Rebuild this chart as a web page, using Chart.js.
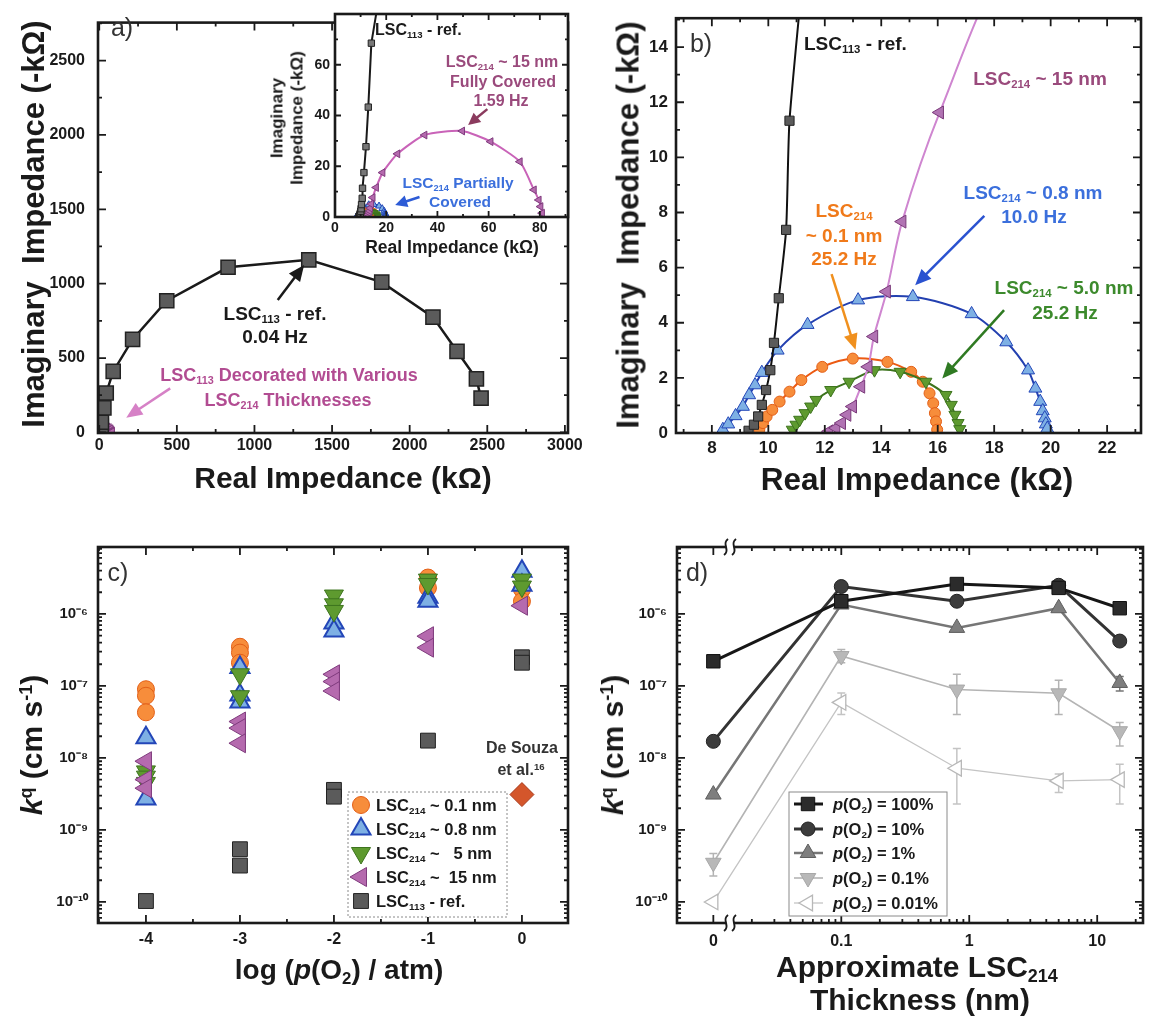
<!DOCTYPE html>
<html>
<head>
<meta charset="utf-8">
<script src="https://cdn.jsdelivr.net/npm/chart.js@4.4.1/dist/chart.umd.min.js"></script>
<style>
  body { margin: 0; background: #fff; }
  #page { position: relative; width: 1155px; height: 1024px; overflow: hidden;
          font-family: "Liberation Sans", Arial, Helvetica, sans-serif; }
  canvas { position: absolute; left: 0; top: 0; }
  .t { position: absolute; white-space: pre; font-weight: bold; line-height: 1;
       text-align: center; transform: translate(-50%, -50%); }
  .t.l { text-align: left; transform: translate(0, -50%); }
  .t.rot { transform: translate(-50%, -50%) rotate(-90deg); }
  .t sub, .t sup { font-size: 0.6em; line-height: 0; position: relative; vertical-align: baseline; }
  .t sub { top: 0.3em; }
  .t sup { top: -0.55em; }
</style>
</head>
<body>
<div id="page">
  <canvas id="cA" width="1155" height="1024"></canvas>
  <canvas id="cIn" width="1155" height="1024"></canvas>
  <canvas id="cB" width="1155" height="1024"></canvas>
  <canvas id="cC" width="1155" height="1024"></canvas>
  <canvas id="cD" width="1155" height="1024"></canvas>
</div>
<script>
// ---------- impedance spectra, panels a / b (real, -imag in kOhm) ----------
const refRe  = [9.3, 9.49, 9.64, 9.77, 9.92, 10.07, 10.2, 10.37, 10.63, 10.75, 11.3, 12.1, 13.0, 14.2, 30, 45, 90, 215, 435, 830, 1350, 1820, 2150, 2305, 2430, 2460];
const refIm  = [0.08, 0.3, 0.6, 1.02, 1.56, 2.28, 3.27, 4.89, 7.37, 11.33, 17.5, 27.7, 43.3, 68.5, 165, 265, 410, 625, 885, 1110, 1160, 1010, 775, 545, 360, 230];
const nm15Re = [12.15, 12.4, 12.6, 12.79, 12.99, 13.28, 13.54, 13.74, 14.19, 14.74, 16.07, 18.6, 24.4, 35.0, 49.7, 60.8, 72.2, 77.7, 79.6, 80.3, 80.9];
const nm15Im = [0.06, 0.18, 0.36, 0.66, 0.96, 1.68, 2.4, 3.5, 5.13, 7.67, 11.63, 17.5, 24.9, 32.3, 33.9, 29.7, 21.8, 10.7, 6.7, 4.1, 1.5];
const nm08Re = [8.39, 8.58, 8.84, 9.1, 9.32, 9.53, 9.77, 10.33, 11.39, 13.18, 15.12, 17.2, 18.43, 19.2, 19.46, 19.63, 19.72, 19.79, 19.83, 19.88];
const nm08Im = [0.12, 0.32, 0.62, 0.96, 1.38, 1.74, 2.19, 3.0, 3.93, 4.82, 4.94, 4.32, 3.3, 2.28, 1.62, 1.14, 0.8, 0.54, 0.32, 0.16];
const nm01Re = [9.68, 9.81, 9.94, 10.14, 10.4, 10.75, 11.17, 11.91, 12.99, 14.22, 15.06, 15.47, 15.71, 15.84, 15.9, 15.94, 15.98];
const nm01Im = [0.12, 0.36, 0.6, 0.84, 1.14, 1.5, 1.92, 2.4, 2.7, 2.58, 2.22, 1.86, 1.44, 1.08, 0.72, 0.42, 0.12];
const nm5Re  = [10.85, 10.98, 11.11, 11.3, 11.5, 11.69, 12.21, 12.86, 13.76, 14.67, 15.58, 16.29, 16.48, 16.61, 16.72, 16.78];
const nm5Im  = [0.12, 0.3, 0.48, 0.72, 0.96, 1.2, 1.56, 1.86, 2.28, 2.22, 1.86, 1.38, 1.02, 0.66, 0.36, 0.14];

// ---------- panel c: k vs log p(O2) ----------
const c01X  = [-4, -4, -4, -3, -3, -3, -1, -1, 0, 0];
const c01K  = [9e-8, 7.3e-8, 4.3e-8, 3.5e-7, 2.9e-7, 2.1e-7, 3.2e-6, 2.3e-6, 2.2e-6, 1.5e-6];
const c08X  = [-4, -4, -3, -3, -3, -2, -2, -1, -1, 0, 0];
const c08K  = [1.9e-8, 2.7e-9, 1.8e-7, 7.5e-8, 6e-8, 7.5e-7, 5.8e-7, 1.7e-6, 1.5e-6, 3.9e-6, 2.5e-6];
const c5X   = [-4, -4, -4, -3, -3, -2, -2, -2, -1, -1, 0, 0];
const c5K   = [6.5e-9, 5.5e-9, 4.5e-9, 1.45e-7, 7.2e-8, 1.8e-6, 1.36e-6, 1.1e-6, 3e-6, 2.6e-6, 3e-6, 2.4e-6];
const c15X  = [-4, -4, -4, -3, -3, -3, -2, -2, -2, -1, -1, 0];
const c15K  = [9e-9, 5e-9, 3.8e-9, 3.2e-8, 2.6e-8, 1.6e-8, 1.45e-7, 1.15e-7, 8.5e-8, 4.9e-7, 3.4e-7, 1.3e-6];
const cRefX = [-4, -3, -3, -2, -2, -1, 0, 0];
const cRefK = [1.03e-10, 5.4e-10, 3.2e-10, 3.6e-9, 2.9e-9, 1.74e-8, 2.5e-7, 2.1e-7];
const souzaX = [0];
const souzaK = [3.1e-9];

// ---------- panel d: k vs thickness (0 nm drawn at 0.01 behind the axis break) ----------
const thick = [0.01, 0.1, 0.8, 5, 15];
const k100 = [2.2e-7, 1.5e-6, 2.6e-6, 2.3e-6, 1.2e-6];
const k10  = [1.7e-8, 2.4e-6, 1.5e-6, 2.5e-6, 4.2e-7];
const k1   = [3.1e-9, 1.35e-6, 6.4e-7, 1.2e-6, 1.1e-7];
const k01  = [3.5e-10, 2.6e-7, 8.9e-8, 7.9e-8, 2.35e-8];
const k001 = [1.0e-10, 5.9e-8, 7.2e-9, 4.8e-9, 5.0e-9];
const k1Lo   = [null, null, null, null, 8.5e-8];
const k1Hi   = [null, null, null, null, 1.35e-7];
const k01Lo  = [2.3e-10, 2.1e-7, 4e-8, 4e-8, 1.46e-8];
const k01Hi  = [4.7e-10, 3.2e-7, 1.45e-7, 1.2e-7, 3.1e-8];
const k001Lo = [null, 4e-8, 2.3e-9, 3.3e-9, 2.3e-9];
const k001Hi = [null, 8e-8, 1.35e-8, 6e-9, 8.2e-9];

// ---------- tick values ----------
const aXTicks = [0, 500, 1000, 1500, 2000, 2500, 3000];
const aYTicks = [0, 500, 1000, 1500, 2000, 2500];
const inXTicks = [0, 20, 40, 60, 80];
const inYTicks = [0, 20, 40, 60];
const bXTicks = [8, 10, 12, 14, 16, 18, 20, 22];
const bYTicks = [0, 2, 4, 6, 8, 10, 12, 14];
const cXTicks = [-4, -3, -2, -1, 0];
const kTicks = [1e-10, 1e-9, 1e-8, 1e-7, 1e-6];
const dXTicks = [0.01, 0.1, 1, 10];
const dXLabels = ["0", "0.1", "1", "10"];

const W = 1155, H = 1024;
Chart.defaults.font.family = '"Liberation Sans", Arial, Helvetica, sans-serif';
Chart.defaults.color = "#1a1a1a";

const steps = (a, b, s) => { const out = []; for (let v = a; v <= b + 1e-9; v += s) out.push(+v.toFixed(6)); return out; };
const logMinor = (e0, e1) => { const out = []; for (let e = e0; e <= e1; e++) for (let m = 2; m <= 9; m++) out.push(m * Math.pow(10, e)); return out; };
const SUP = {"-": "\u207B", "0": "\u2070", "1": "\u00B9", "2": "\u00B2", "3": "\u00B3", "4": "\u2074", "5": "\u2075", "6": "\u2076", "7": "\u2077", "8": "\u2078", "9": "\u2079"};
const powLabel = v => "10" + String(Math.round(Math.log10(v))).split("").map(c => SUP[c]).join("");

function drawMarker(ctx, style, rot, r, x, y) {
  ctx.beginPath();
  if (style === "circle") {
    ctx.arc(x, y, r, 0, Math.PI * 2);
  } else if (style === "rect") {
    const s = r * Math.SQRT1_2;
    ctx.rect(x - s, y - s, 2 * s, 2 * s);
  } else if (style === "rectRot") {
    ctx.moveTo(x, y - r); ctx.lineTo(x + r, y); ctx.lineTo(x, y + r); ctx.lineTo(x - r, y);
  } else {
    let a = (rot || 0) * Math.PI / 180;
    ctx.moveTo(x + Math.sin(a) * r, y - Math.cos(a) * r);
    a += 2 * Math.PI / 3; ctx.lineTo(x + Math.sin(a) * r, y - Math.cos(a) * r);
    a += 2 * Math.PI / 3; ctx.lineTo(x + Math.sin(a) * r, y - Math.cos(a) * r);
  }
  ctx.closePath();
  ctx.fill();
  ctx.stroke();
}

// frame box with inward ticks on all four sides (+ optional axis break)
const framePlugin = {
  id: "frame",
  beforeDatasetsDraw(chart, args, o) {
    if (!o.fill) return;
    const a = chart.chartArea, ctx = chart.ctx;
    ctx.save();
    ctx.fillStyle = o.fill;
    ctx.fillRect(a.left, a.top, a.right - a.left, a.bottom - a.top);
    ctx.restore();
  },
  afterDraw(chart, args, o) {
    const {ctx, chartArea: a} = chart;
    const x = chart.scales.x, y = chart.scales.y;
    const major = o.major || 8, minor = o.minor || 4;
    const inX = v => v >= x.min && v <= x.max, inY = v => v >= y.min && v <= y.max;
    ctx.save();
    ctx.strokeStyle = "#1a1a1a";
    ctx.lineWidth = 1.8;
    ctx.beginPath();
    const xt = (v, len) => {
      const p = x.getPixelForValue(v);
      ctx.moveTo(p, a.bottom); ctx.lineTo(p, a.bottom - len);
      ctx.moveTo(p, a.top); ctx.lineTo(p, a.top + len);
    };
    const yt = (v, len) => {
      const p = y.getPixelForValue(v);
      ctx.moveTo(a.left, p); ctx.lineTo(a.left + len, p);
      ctx.moveTo(a.right, p); ctx.lineTo(a.right - len, p);
    };
    x.ticks.forEach(t => inX(t.value) && xt(t.value, major));
    (o.xMinor || []).forEach(v => inX(v) && xt(v, minor));
    y.ticks.forEach(t => inY(t.value) && yt(t.value, major));
    (o.yMinor || []).forEach(v => inY(v) && yt(v, minor));
    ctx.stroke();
    ctx.lineWidth = 2.6;
    ctx.strokeRect(a.left, a.top, a.right - a.left, a.bottom - a.top);
    if (o.breakAt) {
      const bx = x.getPixelForValue(o.breakAt);
      [a.top, a.bottom].forEach(yy => {
        ctx.fillStyle = "#fff";
        ctx.fillRect(bx - 4, yy - 3, 8, 6);
        ctx.lineWidth = 2;
        [-4, 4].forEach(dx => {
          ctx.beginPath();
          ctx.moveTo(bx + dx - 2, yy + 8);
          ctx.bezierCurveTo(bx + dx + 5, yy + 3, bx + dx - 5, yy - 3, bx + dx + 2, yy - 8);
          ctx.stroke();
        });
      });
    }
    ctx.restore();
  }
};

// annotation arrows, given in data coordinates
const arrowPlugin = {
  id: "arrows",
  afterDatasetsDraw(chart, args, o) {
    const {ctx} = chart, x = chart.scales.x, y = chart.scales.y;
    (o.list || []).forEach(ar => {
      const x0 = x.getPixelForValue(ar.from[0]), y0 = y.getPixelForValue(ar.from[1]);
      const x1 = x.getPixelForValue(ar.to[0]), y1 = y.getPixelForValue(ar.to[1]);
      const ang = Math.atan2(y1 - y0, x1 - x0), c = Math.cos(ang), s = Math.sin(ang);
      const hl = ar.head || 14, hw = ar.hw || 6;
      ctx.save();
      ctx.strokeStyle = ar.color; ctx.fillStyle = ar.color; ctx.lineWidth = ar.w || 2.5;
      ctx.beginPath();
      ctx.moveTo(x0, y0);
      ctx.lineTo(x1 - c * hl * 0.8, y1 - s * hl * 0.8);
      ctx.stroke();
      ctx.beginPath();
      ctx.moveTo(x1, y1);
      ctx.lineTo(x1 - c * hl - s * hw, y1 - s * hl + c * hw);
      ctx.lineTo(x1 - c * hl + s * hw, y1 - s * hl - c * hw);
      ctx.closePath();
      ctx.fill();
      ctx.restore();
    });
  }
};

// vertical error bars from dataset.errLo / dataset.errHi
const errPlugin = {
  id: "errbars",
  beforeDatasetsDraw(chart) {
    const {ctx} = chart, x = chart.scales.x, y = chart.scales.y;
    chart.data.datasets.forEach(ds => {
      if (!ds.errLo) return;
      ctx.save();
      ctx.strokeStyle = ds.borderColor; ctx.lineWidth = 1.5;
      ds.data.forEach((p, i) => {
        if (ds.errLo[i] == null) return;
        const px = x.getPixelForValue(p.x), lo = y.getPixelForValue(ds.errLo[i]), hi = y.getPixelForValue(ds.errHi[i]);
        ctx.beginPath();
        ctx.moveTo(px, lo); ctx.lineTo(px, hi);
        ctx.moveTo(px - 4, lo); ctx.lineTo(px + 4, lo);
        ctx.moveTo(px - 4, hi); ctx.lineTo(px + 4, hi);
        ctx.stroke();
      });
      ctx.restore();
    });
  }
};

// legend box: markers (and line) taken from the datasets
const keyPlugin = {
  id: "key",
  afterDraw(chart, args, o) {
    if (!o.rows) return;
    const {ctx} = chart;
    ctx.save();
    ctx.fillStyle = "#fff";
    ctx.fillRect(o.box[0], o.box[1], o.box[2], o.box[3]);
    ctx.strokeStyle = "#8a8a8a"; ctx.lineWidth = 1;
    if (o.dash) ctx.setLineDash(o.dash);
    ctx.strokeRect(o.box[0], o.box[1], o.box[2], o.box[3]);
    ctx.setLineDash([]);
    o.rows.forEach(r => {
      const ds = chart.data.datasets[r.ds];
      if (o.line) {
        ctx.strokeStyle = ds.borderColor; ctx.lineWidth = ds.borderWidth;
        ctx.beginPath(); ctx.moveTo(o.line[0], r.y); ctx.lineTo(o.line[1], r.y); ctx.stroke();
      }
      ctx.fillStyle = ds.pointBackgroundColor; ctx.strokeStyle = ds.pointBorderColor; ctx.lineWidth = ds.pointBorderWidth;
      drawMarker(ctx, ds.pointStyle, ds.pointRotation, ds.pointRadius, o.markerX, r.y);
    });
    ctx.restore();
  }
};

// axes: the left axis box fills the space left of the frame, the bottom one the space below it
function axis(f, type, min, max, tickVals, o) {
  return {
    type, min, max, position: o.pos,
    afterFit: s => { if (s.isHorizontal()) s.height = H - f.b; else s.width = f.l; },
    afterBuildTicks: s => { s.ticks = tickVals.map(v => ({value: v})); },
    grid: {display: false, drawTicks: false},
    border: {display: false},
    ticks: {
      autoSkip: false, maxRotation: 0, minRotation: 0, padding: o.pad,
      font: {size: o.size, weight: "bold"}, color: "#1a1a1a",
      callback: o.fmt || (v => String(v))
    }
  };
}

function ser(xs, ys, st) {
  return {
    data: xs.map((x, i) => ({x, y: ys[i]})),
    showLine: !!st.line,
    borderColor: st.line || st.edge,
    borderWidth: st.lw || 2,
    tension: st.tension || 0,
    pointStyle: st.shape,
    pointRotation: st.rot || 0,
    pointRadius: st.r,
    pointBackgroundColor: st.fill,
    pointBorderColor: st.edge,
    pointBorderWidth: st.ew || 1,
    clip: st.clip,
    errLo: st.errLo,
    errHi: st.errHi
  };
}

function makeChart(id, f, scales, datasets, plug) {
  return new Chart(document.getElementById(id), {
    type: "scatter",
    data: {datasets},
    options: {
      responsive: false, animation: false, events: [],
      layout: {autoPadding: false, padding: {left: 0, top: f.t, right: W - f.r, bottom: 0}},
      scales,
      plugins: Object.assign({legend: {display: false}, tooltip: {enabled: false}}, plug)
    },
    plugins: [framePlugin, errPlugin, arrowPlugin, keyPlugin]
  });
}

// colours
const BLK = {fill: "#5b5b5b", edge: "#222"};
const MAG = {fill: "#b56aae", edge: "#7f3b7d"};
const BLU = {fill: "#7eb0e4", edge: "#2346b8"};
const ORG = {fill: "#f78d3b", edge: "#e35f17"};
const GRN = {fill: "#5e9a2f", edge: "#3d741e"};

// ---------- panel a ----------
const fA = {l: 98, t: 14, r: 568, b: 433};
makeChart("cA", fA, {
  x: axis(fA, "linear", -8, 3020, aXTicks, {pos: "bottom", pad: 3, size: 16}),
  y: axis(fA, "linear", -4, 2755, aYTicks, {pos: "left", pad: 13, size: 16})
}, [
  ser(refRe, refIm, Object.assign({shape: "rect", r: 10, line: "#1a1a1a", lw: 2.5, clip: 0, ew: 1.5}, BLK)),
  ser(nm15Re, nm15Im, Object.assign({shape: "triangle", rot: -90, r: 5, line: "#c86ec0", clip: 0}, MAG)),
  ser(nm5Re, nm5Im, Object.assign({shape: "triangle", rot: 180, r: 4, clip: 0}, GRN)),
  ser(nm01Re, nm01Im, Object.assign({shape: "circle", r: 3.5, clip: 0}, ORG)),
  ser(nm08Re, nm08Im, Object.assign({shape: "triangle", r: 4, clip: 0}, BLU))
], {
  frame: {xMinor: steps(0, 3000, 250), yMinor: steps(0, 2750, 250)},
  arrows: {list: [
    {from: [1150, 890], to: [1320, 1125], color: "#1a1a1a", head: 16, hw: 7},
    {from: [457, 296], to: [174, 99], color: "#d681c6", head: 16, hw: 7}
  ]}
});

// ---------- inset of panel a ----------
const fIn = {l: 335, t: 14, r: 568, b: 217};
makeChart("cIn", fIn, {
  x: axis(fIn, "linear", 0, 91, inXTicks, {pos: "bottom", pad: 3, size: 14}),
  y: axis(fIn, "linear", 0, 80, inYTicks, {pos: "left", pad: 5, size: 14})
}, [
  ser(refRe, refIm, Object.assign({shape: "rect", r: 4.5, line: "#1a1a1a", clip: 0}, {fill: "#777", edge: "#222"})),
  ser(nm15Re, nm15Im, Object.assign({shape: "triangle", rot: -90, r: 4.5, line: "#c963b8", tension: 0.2, clip: 0}, MAG)),
  ser(nm5Re, nm5Im, Object.assign({shape: "triangle", rot: 180, r: 3.5, line: "#3d741e", tension: 0.2, clip: 0}, GRN)),
  ser(nm01Re, nm01Im, Object.assign({shape: "circle", r: 3, line: "#e35f17", tension: 0.2, clip: 0}, ORG)),
  ser(nm08Re, nm08Im, Object.assign({shape: "triangle", r: 4, line: "#2346b8", tension: 0.2, clip: 0}, BLU))
], {
  frame: {fill: "#fff", xMinor: steps(0, 90, 10), yMinor: steps(0, 80, 10), major: 6, minor: 3},
  arrows: {list: [
    {from: [59.5, 42.5], to: [52, 36.3], color: "#8b3b5e", head: 12, hw: 6},
    {from: [33, 7.9], to: [23.5, 4.7], color: "#2d5bd6", head: 12, hw: 6}
  ]}
});

// ---------- panel b ----------
const fB = {l: 676, t: 14, r: 1141, b: 433};
makeChart("cB", fB, {
  x: axis(fB, "linear", 6.73, 23.2, bXTicks, {pos: "bottom", pad: 5, size: 17}),
  y: axis(fB, "linear", 0, 15.05, bYTicks, {pos: "left", pad: 8, size: 17})
}, [
  ser(refRe, refIm, Object.assign({shape: "rect", r: 6.5, line: "#111", tension: 0.2, clip: 0}, BLK)),
  ser(nm15Re, nm15Im, Object.assign({shape: "triangle", rot: -90, r: 7.5, line: "#cf86d0", tension: 0.3, clip: 0}, {fill: "#b173b3", edge: "#7a3a7a"})),
  ser(nm5Re, nm5Im, Object.assign({shape: "triangle", rot: 180, r: 7, line: "#3d741e", tension: 0.3, clip: 0}, GRN)),
  ser(nm01Re, nm01Im, Object.assign({shape: "circle", r: 5.5, line: "#ec5a12", tension: 0.3, clip: 0}, ORG)),
  ser(nm08Re, nm08Im, Object.assign({shape: "triangle", r: 7.5, line: "#2340b0", tension: 0.3, clip: 0}, BLU))
], {
  frame: {xMinor: steps(7, 23, 1), yMinor: steps(0, 15, 1)},
  arrows: {list: [
    {from: [17.65, 7.88], to: [15.2, 5.36], color: "#2a52d0", head: 16, hw: 7},
    {from: [12.24, 5.76], to: [13.09, 3.02], color: "#f0901e", head: 16, hw: 7},
    {from: [18.35, 4.46], to: [16.16, 1.98], color: "#2f7a22", head: 16, hw: 7}
  ]}
});

// ---------- panel c ----------
const fC = {l: 98, t: 547, r: 568, b: 923};
makeChart("cC", fC, {
  x: axis(fC, "linear", -4.51, 0.49, cXTicks, {pos: "bottom", pad: 7, size: 16}),
  y: axis(fC, "logarithmic", 5.1e-11, 8.5e-6, kTicks, {pos: "left", pad: 10, size: 15, fmt: powLabel})
}, [
  ser(cRefX, cRefK, Object.assign({shape: "rect", r: 10.5}, BLK)),
  ser(souzaX, souzaK, {shape: "rectRot", r: 12, fill: "#d4562b", edge: "#a8391a"}),
  ser(c15X, c15K, Object.assign({shape: "triangle", rot: -90, r: 11}, MAG)),
  ser(c5X, c5K, Object.assign({shape: "triangle", rot: 180, r: 11}, GRN)),
  ser(c08X, c08K, Object.assign({shape: "triangle", r: 11, ew: 2}, BLU)),
  ser(c01X, c01K, Object.assign({shape: "circle", r: 8.5}, ORG))
], {
  frame: {xMinor: steps(-4.5, 0.5, 0.5), yMinor: logMinor(-11, -6)},
  key: {box: [348, 792, 159, 125], markerX: 361, dash: [2, 2], rows: [
    {ds: 5, y: 805}, {ds: 4, y: 829}, {ds: 3, y: 853}, {ds: 2, y: 877}, {ds: 0, y: 901}
  ]}
});

// ---------- panel d ----------
const fD = {l: 677, t: 547, r: 1143, b: 923};
makeChart("cD", fD, {
  x: axis(fD, "logarithmic", 0.0052, 22.8, dXTicks, {pos: "bottom", pad: 9, size: 16, fmt: (v, i) => dXLabels[i]}),
  y: axis(fD, "logarithmic", 5.1e-11, 8.5e-6, kTicks, {pos: "left", pad: 10, size: 15, fmt: powLabel})
}, [
  ser(thick, k100, {shape: "rect", r: 9.5, line: "#161616", lw: 3, fill: "#2b2b2b", edge: "#111"}),
  ser(thick, k10, {shape: "circle", r: 7, line: "#333", lw: 3, fill: "#3c3c3c", edge: "#222"}),
  ser(thick, k1, {shape: "triangle", r: 9, line: "#767676", lw: 2.5, fill: "#7e7e7e", edge: "#5e5e5e", errLo: k1Lo, errHi: k1Hi}),
  ser(thick, k01, {shape: "triangle", rot: 180, r: 9, line: "#b4b4b4", lw: 1.6, fill: "#b8b8b8", edge: "#a8a8a8", errLo: k01Lo, errHi: k01Hi}),
  ser(thick, k001, {shape: "triangle", rot: -90, r: 9, line: "#c4c4c4", lw: 1.3, fill: "#fff", edge: "#b8b8b8", ew: 1.3, errLo: k001Lo, errHi: k001Hi})
], {
  frame: {xMinor: logMinor(-2, 1).filter(v => v >= 0.02), yMinor: logMinor(-11, -6), breakAt: 0.0135},
  key: {box: [789, 792, 158, 124], markerX: 808, line: [794, 823], rows: [
    {ds: 0, y: 804}, {ds: 1, y: 829}, {ds: 2, y: 853}, {ds: 3, y: 878}, {ds: 4, y: 903}
  ]}
});

// ---------- text ----------
const page = document.getElementById("page");
function addText(html, x, y, o = {}) {
  const d = document.createElement("div");
  d.className = "t" + (o.left ? " l" : "") + (o.rot ? " rot" : "");
  d.innerHTML = html;
  d.style.left = x + "px";
  d.style.top = y + "px";
  d.style.fontSize = (o.size || 19) + "px";
  d.style.color = o.color || "#1a1a1a";
  if (o.weight) d.style.fontWeight = o.weight;
  if (o.lh) d.style.lineHeight = o.lh;
  page.appendChild(d);
}
const PINK = "#b24c92", MAUVE = "#9a4a7c", BLUET = "#3b6fdc", ORGT = "#f07a1a", GRNT = "#3c8a2c";
const LSC214 = "LSC<sub>214</sub>", LSC113 = "LSC<sub>113</sub>";

// a
addText("a)", 122, 27, {size: 25, weight: "normal", color: "#333"});
addText("Imaginary  Impedance (-k\u03A9)", 33, 224, {size: 31, rot: true});
addText("Real Impedance (k\u03A9)", 343, 478, {size: 30});
addText(LSC113 + " - ref.", 275, 313);
addText("0.04 Hz", 275, 336);
addText(LSC113 + " Decorated with Various", 289, 375, {size: 18, color: PINK});
addText(LSC214 + " Thicknesses", 288, 400, {size: 18, color: PINK});
// inset
addText("Imaginary\nImpedance (-k\u03A9)", 287, 118, {size: 17, rot: true, lh: 1.15});
addText("Real Impedance (k\u03A9)", 452, 248, {size: 17.5});
addText(LSC113 + " - ref.", 375, 30, {size: 16, left: true});
addText(LSC214 + " ~ 15 nm", 502, 62, {size: 16, color: MAUVE});
addText("Fully Covered", 503, 82, {size: 16, color: MAUVE});
addText("1.59 Hz", 501, 101, {size: 16, color: MAUVE});
addText(LSC214 + " Partially", 458, 183, {size: 15.5, color: BLUET});
addText("Covered", 460, 202, {size: 15.5, color: BLUET});
// b
addText("b)", 701, 43, {size: 25, weight: "normal", color: "#333"});
addText("Imaginary  Impedance (-k\u03A9)", 628, 225, {size: 31, rot: true});
addText("Real Impedance (k\u03A9)", 917, 480, {size: 31.5});
addText(LSC113 + " - ref.", 804, 43, {left: true});
addText(LSC214 + " ~ 15 nm", 1040, 78, {color: MAUVE});
addText(LSC214 + " ~ 0.8 nm", 1033, 192, {color: BLUET});
addText("10.0 Hz", 1034, 216, {color: BLUET});
addText(LSC214, 844, 210, {color: ORGT});
addText("~ 0.1 nm", 844, 235, {color: ORGT});
addText("25.2 Hz", 844, 258, {color: ORGT});
addText(LSC214 + " ~ 5.0 nm", 1064, 287, {color: GRNT});
addText("25.2 Hz", 1065, 312, {color: GRNT});
// c
addText("c)", 118, 572, {size: 25, weight: "normal", color: "#333"});
addText("<i>k</i><sup>q</sup> (cm s<sup>-1</sup>)", 32, 745, {size: 30, rot: true});
addText("log (<i>p</i>(O<sub>2</sub>) / atm)", 339, 970, {size: 28});
addText("De Souza", 522, 748, {size: 16, color: "#333"});
addText("et al.<sup>16</sup>", 521, 770, {size: 16, color: "#333"});
[LSC214 + " ~ 0.1 nm", LSC214 + " ~ 0.8 nm", LSC214 + " ~   5 nm", LSC214 + " ~  15 nm", LSC113 + " - ref."]
  .forEach((s, i) => addText(s, 376, [805, 829, 853, 877, 901][i], {size: 16.5, left: true}));
// d
addText("d)", 697, 572, {size: 25, weight: "normal", color: "#333"});
addText("<i>k</i><sup>q</sup> (cm s<sup>-1</sup>)", 613, 745, {size: 30, rot: true});
addText("Approximate " + LSC214, 917, 967, {size: 30});
addText("Thickness (nm)", 920, 1000, {size: 30});
["100%", "10%", "1%", "0.1%", "0.01%"]
  .forEach((s, i) => addText("<i>p</i>(O<sub>2</sub>) = " + s, 833, [804, 829, 853, 878, 903][i], {size: 16.5, left: true}));
</script>
</body>
</html>
